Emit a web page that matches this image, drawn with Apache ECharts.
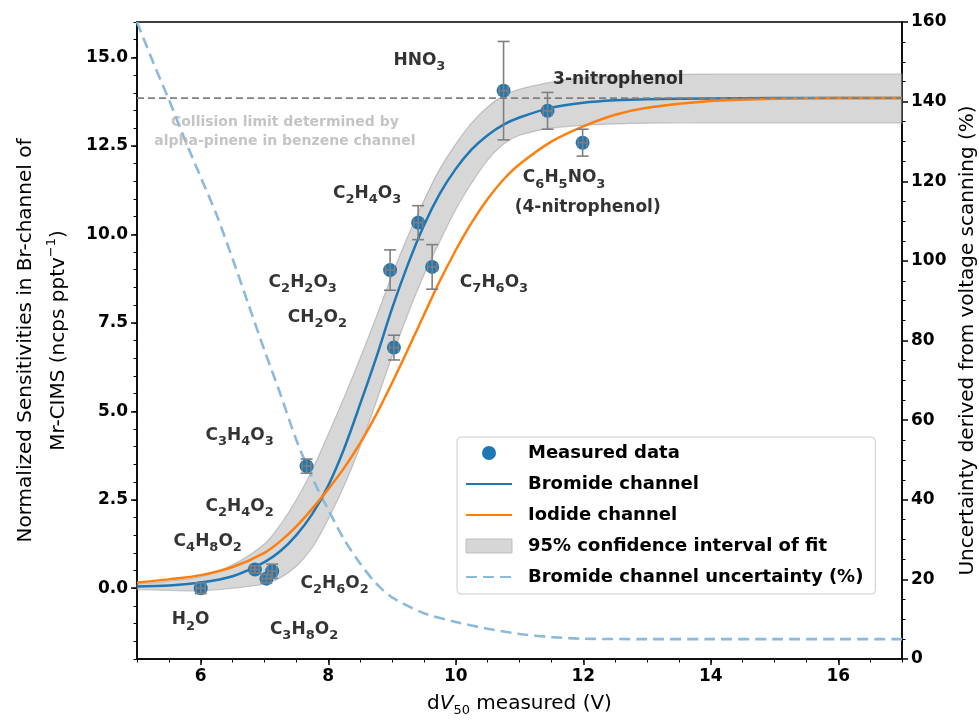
<!DOCTYPE html>
<html>
<head>
<meta charset="utf-8">
<script src="https://cdn.jsdelivr.net/npm/echarts@6/dist/echarts.min.js"></script>
<style>
html, body { margin: 0; padding: 0; background: #fff; }
#main { width: 979px; height: 726px; }
</style>
</head>
<body>
<div id="main"></div>
<script>
// fitted curves, sampled on dV50 (V)
var fitX = [5.0, 5.5, 6.0, 6.5, 7.0, 7.25, 7.5, 7.75, 8.0, 8.25, 8.5, 8.75, 9.0, 9.25, 9.5, 9.75, 10.0, 10.25, 10.5, 10.75, 11.0, 11.5, 12.0, 12.5, 13.0, 14.0, 15.0, 16.0, 17.0]
var bromide = [0.05, 0.08, 0.16, 0.34, 0.74, 1.05, 1.5, 2.1, 2.9, 3.95, 5.2, 6.5, 7.9, 9.15, 10.25, 11.15, 11.85, 12.4, 12.8, 13.1, 13.3, 13.58, 13.72, 13.79, 13.82, 13.84, 13.85, 13.85, 13.85]
var iodide = [0.16, 0.25, 0.37, 0.6, 1.0, 1.33, 1.75, 2.25, 2.8, 3.4, 4.1, 4.9, 5.8, 6.75, 7.72, 8.68, 9.55, 10.33, 11.0, 11.55, 11.98, 12.62, 13.05, 13.38, 13.58, 13.77, 13.83, 13.85, 13.85]
var ciUpper = [0.12, 0.2, 0.33, 0.66, 1.25, 1.8, 2.5, 3.35, 4.35, 5.4, 6.5, 7.65, 8.85, 9.95, 10.95, 11.85, 12.55, 13.15, 13.6, 13.92, 14.1, 14.3, 14.42, 14.48, 14.51, 14.53, 14.53, 14.53, 14.53]
var ciLower = [-0.04, -0.06, -0.07, 0.0, 0.12, 0.3, 0.62, 1.15, 1.95, 2.9, 4.0, 5.25, 6.55, 7.75, 8.85, 9.8, 10.7, 11.45, 12.1, 12.55, 12.8, 13.0, 13.08, 13.12, 13.14, 13.15, 13.15, 13.15, 13.15]

// bromide channel uncertainty (%), right axis
var uncX = [5.0, 5.25, 5.5, 5.75, 6.0, 6.25, 6.5, 6.75, 7.0, 7.25, 7.5, 7.75, 8.0, 8.25, 8.5, 8.75, 9.0, 9.5, 10.0, 10.5, 11.0, 11.5, 12.0, 13.0, 14.0, 15.0, 16.0, 17.0]
var uncY = [160, 150, 140.5, 130.5, 121, 111.5, 100.5, 89, 77.5, 66.5, 55, 45.5, 37.5, 30, 24, 19, 15.5, 11.5, 9.3, 7.6, 6.3, 5.5, 5.1, 5.0, 5.0, 5.0, 5.0, 5.0]

// measured data with error bars
var ptX = [6.0, 6.85, 7.03, 7.12, 7.66, 8.97, 9.03, 9.41, 9.63, 10.75, 11.44, 11.99]
var ptY = [0.0, 0.53, 0.27, 0.48, 3.45, 8.99, 6.80, 10.33, 9.08, 14.06, 13.49, 12.59]
var ptErrY = [0.15, 0.1, 0.12, 0.2, 0.2, 0.57, 0.35, 0.48, 0.63, 1.39, 0.52, 0.38]
var ptErrX = [0.07, 0.07, 0.07, 0.07, 0.07, 0.07, 0.07, 0.07, 0.07, 0.07, 0.07, 0.07]

var limitY = 13.85
var leftTicks = [0, 2.5, 5, 7.5, 10, 12.5, 15]
var bottomTicks = [6, 8, 10, 12, 14, 16]

// compound labels: text, x, y (data coords)
var notes = [
  ['HNO3', 9.43, 14.92],
  ['3-nitrophenol', 12.55, 14.36],
  ['C6H5NO3', 11.7, 11.59],
  ['(4-nitrophenol)', 12.07, 10.77],
  ['C2H4O3', 8.61, 11.16],
  ['C2H2O3', 7.6, 8.65],
  ['CH2O2', 7.83, 7.66],
  ['C7H6O3', 10.6, 8.65],
  ['C3H4O3', 6.61, 4.32],
  ['C2H4O2', 6.61, 2.32],
  ['C4H8O2', 6.11, 1.33],
  ['C2H6O2', 8.1, 0.14],
  ['H2O', 5.84, -0.9],
  ['C3H8O2', 7.62, -1.16]
]
var limitNote = ['Collision limit determined by\nalpha-pinene in benzene channel', 7.32, 12.89]

var FONT = '"DejaVu Sans", sans-serif'

function zip (xs, ys) {
  return xs.map(function (x, i) { return [x, ys[i]] })
}

function formula (s) {
  return s.replace(/([A-Za-z])(\d+)/g, '$1{s|$2}')
}

// confidence band as one polygon: upper edge forward, lower edge back
// (end points doubled so the smoothing keeps the corners square)
function renderBand (params, api) {
  var n = fitX.length
  var pts = [api.coord([fitX[0], ciUpper[0]])]
  for (var i = 0; i < n; i++) pts.push(api.coord([fitX[i], ciUpper[i]]))
  pts.push(api.coord([fitX[n - 1], ciUpper[n - 1]]))
  pts.push(api.coord([fitX[n - 1], ciLower[n - 1]]))
  for (var j = n - 1; j >= 0; j--) pts.push(api.coord([fitX[j], ciLower[j]]))
  pts.push(api.coord([fitX[0], ciLower[0]]))
  return {
    type: 'polygon',
    shape: { points: pts, smooth: 0.3 },
    style: { fill: 'rgba(160,160,160,0.42)', stroke: 'rgba(150,150,150,0.5)', lineWidth: 1.2 }
  }
}

function renderErr (params, api) {
  var x = api.value(0)
  var y = api.value(1)
  var ey = api.value(2)
  var ex = api.value(3)
  var t = api.coord([x, y + ey])
  var b = api.coord([x, y - ey])
  var l = api.coord([x - ex, y])
  var r = api.coord([x + ex, y])
  var st = { stroke: '#7f7f7f', lineWidth: 1.6 }
  function seg (x1, y1, x2, y2) {
    return { type: 'line', shape: { x1: x1, y1: y1, x2: x2, y2: y2 }, style: st }
  }
  return {
    type: 'group',
    children: [
      seg(t[0], t[1], b[0], b[1]),
      seg(t[0] - 6, t[1], t[0] + 6, t[1]),
      seg(b[0] - 6, b[1], b[0] + 6, b[1]),
      seg(l[0], l[1], r[0], r[1]),
      seg(l[0], l[1] - 5, l[0], l[1] + 5),
      seg(r[0], r[1] - 5, r[0], r[1] + 5)
    ]
  }
}

var noSymbol = { color: 'rgba(0,0,0,0)', borderColor: 'rgba(0,0,0,0)', borderWidth: 0, opacity: 0 }
var tickFont = { fontSize: 17, fontWeight: 'bold', color: '#000', margin: 9, fontFamily: FONT }

var chart = echarts.init(document.getElementById('main'))

chart.setOption({
  animation: false,
  textStyle: { fontFamily: FONT },
  grid: {
    left: 137, right: 77, top: 22, bottom: 67,
    outerBoundsMode: 'none',
    containLabel: false,
    show: true, borderColor: '#000', borderWidth: 1.5, backgroundColor: 'transparent'
  },
  legend: {
    orient: 'vertical',
    left: 457,
    top: 437,
    itemWidth: 46,
    itemHeight: 14,
    itemGap: 13,
    padding: [7, 12, 8, 8],
    borderColor: '#cccccc',
    borderWidth: 1,
    borderRadius: 4,
    backgroundColor: 'rgba(255,255,255,0.85)',
    textStyle: { fontSize: 18, fontWeight: 'bold', color: '#000', fontFamily: FONT, padding: [0, 0, 0, 11] },
    data: [
      { name: 'Measured data', icon: 'circle' },
      { name: 'Bromide channel', itemStyle: noSymbol },
      { name: 'Iodide channel', itemStyle: noSymbol },
      { name: '95% confidence interval of fit', icon: 'rect', itemStyle: { color: '#d6d6d6', borderColor: '#bdbdbd', borderWidth: 1 } },
      { name: 'Bromide channel uncertainty (%)', itemStyle: noSymbol }
    ]
  },
  xAxis: [
    {
      type: 'value',
      min: 5,
      max: 17,
      name: 'd{i|V}{s|50} measured (V)',
      nameLocation: 'middle',
      nameGap: 31,
      nameTextStyle: {
        fontSize: 20, color: '#000', fontFamily: FONT,
        rich: {
          i: { fontSize: 20, fontStyle: 'italic', color: '#000', fontFamily: FONT },
          s: { fontSize: 13, padding: [14, 0, 0, 0], color: '#000', fontFamily: FONT }
        }
      },
      axisLine: { onZero: false, lineStyle: { color: '#000', width: 1.5 } },
      axisTick: { length: 6, customValues: bottomTicks, lineStyle: { color: '#000', width: 1.5 } },
      axisLabel: Object.assign({ customValues: bottomTicks }, tickFont),
      splitLine: { show: false }
    },
    {
      // minor ticks of the bottom axis
      type: 'value',
      position: 'bottom',
      min: 5,
      max: 17,
      interval: 0.5,
      axisLine: { show: false, onZero: false },
      axisTick: { show: true, length: 3.5, lineStyle: { color: '#000', width: 1 } },
      axisLabel: { show: false },
      splitLine: { show: false }
    }
  ],
  yAxis: [
    {
      type: 'value',
      position: 'left',
      min: -2,
      max: 16,
      name: 'Normalized Sensitivities in Br-channel of\nMr-CIMS (ncps pptv{sup|\u22121})',
      nameLocation: 'middle',
      nameGap: 61,
      nameTextStyle: {
        fontSize: 20, color: '#000', lineHeight: 33, fontFamily: FONT, align: 'center',
        rich: { sup: { fontSize: 13, lineHeight: 13, padding: [0, 0, 14, 0], color: '#000', fontFamily: FONT } }
      },
      axisLine: { show: true, onZero: false, lineStyle: { color: '#000', width: 1.5 } },
      axisTick: { show: true, length: 6, customValues: leftTicks, lineStyle: { color: '#000', width: 1.5 } },
      axisLabel: Object.assign({
        customValues: leftTicks,
        formatter: function (v) { return v.toFixed(1) }
      }, tickFont),
      splitLine: { show: false }
    },
    {
      type: 'value',
      position: 'right',
      min: 0,
      max: 160,
      interval: 20,
      name: 'Uncertainty derived from voltage scanning (%)',
      nameLocation: 'middle',
      nameGap: 56,
      nameTextStyle: { fontSize: 20, color: '#000', fontFamily: FONT },
      axisLine: { show: true, onZero: false, lineStyle: { color: '#000', width: 1.5 } },
      axisTick: { show: true, length: 6, lineStyle: { color: '#000', width: 1.5 } },
      minorTick: { show: true, splitNumber: 4, length: 3.5, lineStyle: { color: '#000', width: 1 } },
      axisLabel: tickFont,
      splitLine: { show: false }
    },
    {
      // minor ticks of the left axis
      type: 'value',
      position: 'left',
      min: -2,
      max: 16,
      interval: 0.5,
      axisLine: { show: false, onZero: false },
      axisTick: { show: true, length: 3.5, lineStyle: { color: '#000', width: 1 } },
      axisLabel: { show: false },
      splitLine: { show: false }
    }
  ],
  series: [
    {
      name: '95% confidence interval of fit',
      type: 'custom',
      renderItem: renderBand,
      data: [[fitX[0], ciLower[0]]],
      itemStyle: { color: '#d6d6d6' },
      silent: true,
      z: 1
    },
    {
      name: 'Bromide channel uncertainty (%)',
      type: 'line',
      yAxisIndex: 1,
      data: zip(uncX, uncY),
      smooth: 0.3,
      symbol: 'none',
      lineStyle: { color: '#8cbadd', width: 2.6, type: [11, 6] },
      itemStyle: { color: '#8cbadd' },
      z: 2
    },
    {
      name: 'Bromide channel',
      type: 'line',
      data: zip(fitX, bromide),
      smooth: 0.3,
      symbol: 'none',
      lineStyle: { color: '#1f77b4', width: 2.5 },
      itemStyle: { color: '#1f77b4' },
      z: 3
    },
    {
      name: 'Iodide channel',
      type: 'line',
      data: zip(fitX, iodide),
      smooth: 0.3,
      symbol: 'none',
      lineStyle: { color: '#ff7f0e', width: 2.5 },
      itemStyle: { color: '#ff7f0e' },
      z: 3
    },
    {
      name: 'limit',
      type: 'line',
      data: [[5, limitY], [17, limitY]],
      symbol: 'none',
      lineStyle: { color: '#808080', width: 1.6, type: [7, 4] },
      silent: true,
      z: 4
    },
    {
      name: 'Measured data',
      type: 'scatter',
      data: zip(ptX, ptY),
      symbolSize: 14,
      itemStyle: { color: '#1f77b4', opacity: 1 },
      z: 5
    },
    {
      name: 'errors',
      type: 'custom',
      renderItem: renderErr,
      data: ptX.map(function (x, i) { return [x, ptY[i], ptErrY[i], ptErrX[i]] }),
      silent: true,
      z: 6
    },
    {
      name: 'notes',
      type: 'scatter',
      data: notes.map(function (n) { return { value: [n[1], n[2]], label: { formatter: formula(n[0]) } } }),
      symbolSize: 1,
      itemStyle: { color: 'rgba(0,0,0,0)' },
      silent: true,
      label: {
        show: true,
        position: 'inside',
        fontSize: 17,
        fontWeight: 'bold',
        color: '#000',
        lineHeight: 20,
        fontFamily: FONT,
        rich: { s: { fontSize: 13, fontWeight: 'bold', lineHeight: 13, padding: [13, 0, 0, 0], color: '#000', fontFamily: FONT } }
      },
      z: 7
    },
    {
      name: 'limitNote',
      type: 'scatter',
      data: [[limitNote[1], limitNote[2]]],
      symbolSize: 1,
      itemStyle: { color: 'rgba(0,0,0,0)' },
      silent: true,
      label: {
        show: true,
        position: 'inside',
        formatter: limitNote[0],
        fontSize: 14,
        fontWeight: 'bold',
        color: '#b5b5b5',
        lineHeight: 19,
        align: 'center',
        fontFamily: FONT
      },
      z: 7
    }
  ]
})
</script>
</body>
</html>
